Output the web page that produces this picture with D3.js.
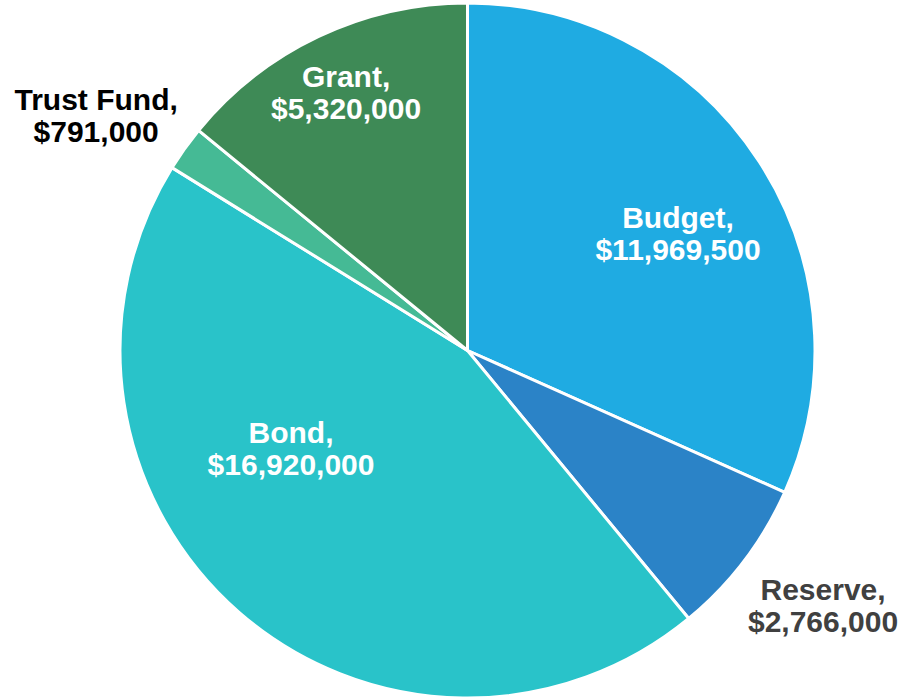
<!DOCTYPE html>
<html><head><meta charset="utf-8">
<script src="https://cdn.jsdelivr.net/npm/d3@7"></script>
<style>body{margin:0;background:#fff}svg{display:block}</style>
</head><body>
<script>
const categories = ["Budget", "Reserve", "Bond", "Trust Fund", "Grant"];
const values = [11969500, 2766000, 16920000, 791000, 5320000];
const labelTexts = ["$11,969,500", "$2,766,000", "$16,920,000", "$791,000", "$5,320,000"];
const colors = ["#1FABE2", "#2B83C7", "#29C3C9", "#45BA95", "#3E8A56"];
const labelColors = ["#fff", "#404040", "#fff", "#000", "#fff"];

const W = 903, H = 699, cx = 467.5, cy = 350.5, R = 347.5;
const svg = d3.select("body").append("svg").attr("width", W).attr("height", H);
const g = svg.append("g").attr("transform", `translate(${cx},${cy})`);
const data = categories.map((c, i) => ({c, v: values[i], i}));
const pie = d3.pie().value(d => d.v).sort(null);
const arcs = pie(data);
const arc = d3.arc().innerRadius(0).outerRadius(R);
g.selectAll("path").data(arcs).enter().append("path")
  .attr("d", arc).attr("fill", d => colors[d.data.i])
  .attr("stroke", "#fff").attr("stroke-width", 3).attr("stroke-linejoin", "round");

// label placement: radius factor and angle shift (degrees) from slice mid-angle
const labelR = [0.694, 1.258, 0.580, 1.266, 0.822];
const labelShift = [3.75, -1.7, 20.0, -3.1, 0.2];
const lbl = g.selectAll("text").data(arcs).enter().append("text")
  .attr("text-anchor", "middle")
  .attr("font-family", "Liberation Sans, Arial, sans-serif")
  .attr("font-weight", "bold").attr("font-size", 30)
  .attr("fill", d => labelColors[d.data.i])
  .attr("transform", d => {
    const a = (d.startAngle + d.endAngle) / 2 + labelShift[d.data.i] * Math.PI / 180;
    const r = R * labelR[d.data.i];
    return `translate(${r * Math.sin(a)},${-r * Math.cos(a)})`;
  });
lbl.append("tspan").attr("x", 0).attr("y", -5).text(d => d.data.c + ",");
lbl.append("tspan").attr("x", 0).attr("y", 27).text(d => labelTexts[d.data.i]);
</script>
</body></html>
